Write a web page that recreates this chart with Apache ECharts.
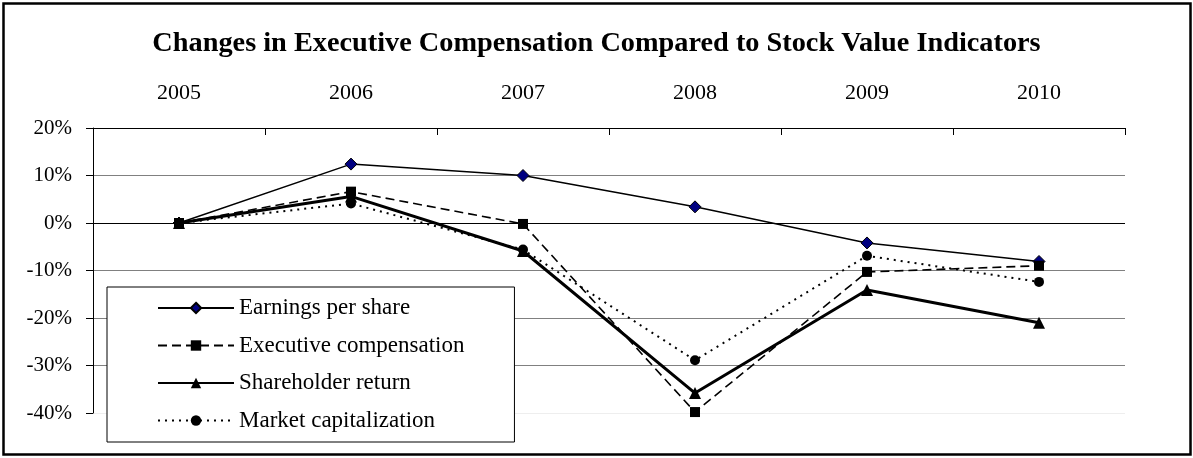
<!DOCTYPE html>
<html>
<head>
<meta charset="utf-8">
<script src="https://cdn.jsdelivr.net/npm/echarts@6/dist/echarts.min.js"></script>
<style>
html,body{margin:0;padding:0;background:#fff;}
#chart{width:1193px;height:458px;}
</style>
</head>
<body>
<div id="chart"></div>
<script>
const titleText = 'Changes in Executive Compensation Compared to Stock Value Indicators';
const years = ['2005', '2006', '2007', '2008', '2009', '2010'];
const seriesNames = ['Earnings per share', 'Executive compensation', 'Shareholder return', 'Market capitalization'];
const earningsPerShare = [0, 12.4, 10.0, 3.4, -4.2, -8.1];
const executiveCompensation = [0, 6.6, -0.2, -39.8, -10.3, -9.0];
const shareholderReturn = [0, 5.6, -5.9, -35.8, -14.1, -21.0];
const marketCapitalization = [0, 4.1, -5.6, -28.9, -6.9, -12.4];
const yMin = -40, yMax = 20, yStep = 10;

const FONT = "'Liberation Serif', 'Times New Roman', serif";
const chart = echarts.init(document.getElementById('chart'), null, {renderer: 'canvas'});

chart.setOption({
  animation: false,
  backgroundColor: '#fff',
  title: {
    text: titleText,
    left: 'center',
    top: 30,
    padding: 0,
    textStyle: {fontFamily: FONT, fontSize: 28.3, fontWeight: 'bold', color: '#000'}
  },
  graphic: [{
    type: 'rect',
    shape: {x: 3.5, y: 3.5, width: 1187, height: 451},
    style: {fill: 'none', stroke: '#000', lineWidth: 2.5},
    silent: true,
    z: 100
  }],
  legend: {
    orient: 'vertical',
    left: 107,
    top: 287,
    padding: [9.5, 50, 10, 50],
    itemWidth: 76,
    itemHeight: 13,
    itemGap: 14.5,
    backgroundColor: '#fff',
    borderColor: '#000',
    borderWidth: 1,
    textStyle: {fontFamily: FONT, fontSize: 23, lineHeight: 23, color: '#000'},
    data: seriesNames
  },
  grid: {left: 93, top: 128, width: 1032, height: 285, containLabel: false},
  xAxis: {
    type: 'category',
    position: 'top',
    data: years,
    boundaryGap: true,
    axisLine: {show: true, onZero: false, lineStyle: {color: '#000', width: 1}},
    axisTick: {show: true, inside: true, length: 7, alignWithLabel: false, lineStyle: {color: '#000'}},
    axisLabel: {fontFamily: FONT, fontSize: 22, color: '#000', margin: 24},
    splitLine: {show: false}
  },
  yAxis: {
    type: 'value',
    min: yMin,
    max: yMax,
    interval: yStep,
    axisLine: {show: true, lineStyle: {color: '#000', width: 1}},
    axisTick: {show: true, inside: false, length: 7, lineStyle: {color: '#000'}},
    axisLabel: {fontFamily: FONT, fontSize: 21, color: '#000', margin: 21, formatter: '{value}%'},
    splitLine: {show: true, lineStyle: {color: ['#eeeeee', '#808080', '#808080', '#808080', '#000000', '#808080', '#000000'], width: 1}}
  },
  series: [
    {
      name: seriesNames[0], type: 'line', data: earningsPerShare,
      symbol: 'diamond', symbolSize: 12,
      lineStyle: {color: '#000', width: 1.5, type: 'solid'},
      itemStyle: {color: '#000080', borderColor: '#000', borderWidth: 1}
    },
    {
      name: seriesNames[1], type: 'line', data: executiveCompensation,
      symbol: 'rect', symbolSize: 10,
      lineStyle: {color: '#000', width: 1.6, type: [9, 5]},
      itemStyle: {color: '#000'}
    },
    {
      name: seriesNames[2], type: 'line', data: shareholderReturn,
      symbol: 'triangle', symbolSize: 12,
      lineStyle: {color: '#000', width: 3, type: 'solid'},
      itemStyle: {color: '#000'}
    },
    {
      name: seriesNames[3], type: 'line', data: marketCapitalization,
      symbol: 'circle', symbolSize: 10,
      lineStyle: {color: '#000', width: 2, type: [2, 5]},
      itemStyle: {color: '#000'}
    }
  ]
});
</script>
</body>
</html>
